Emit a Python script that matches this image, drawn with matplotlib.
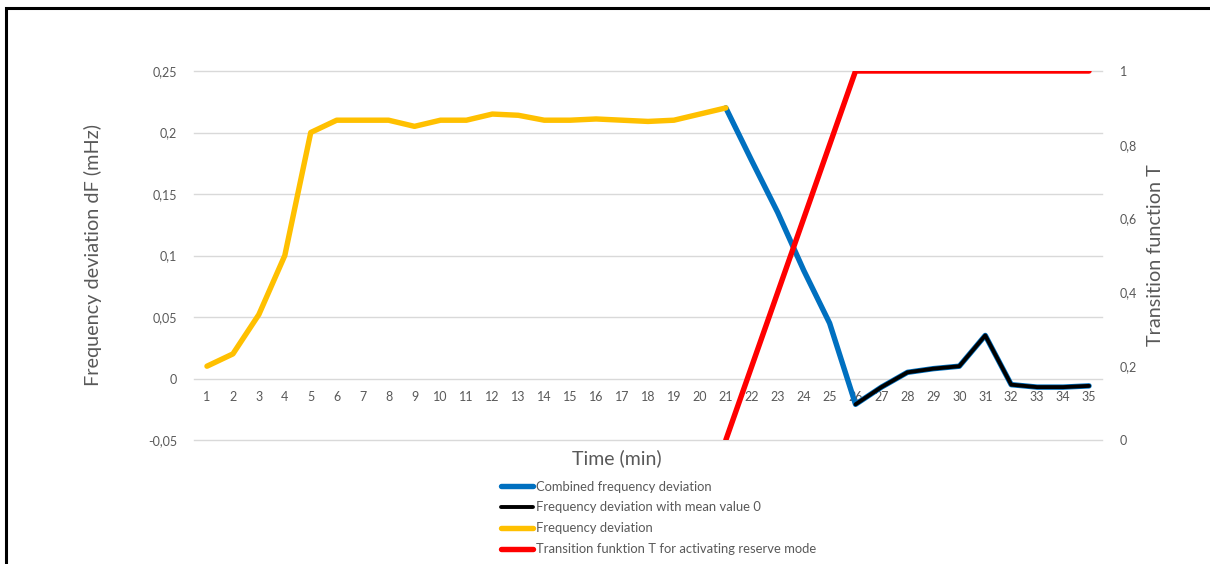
import matplotlib.pyplot as plt
from matplotlib.patches import Rectangle

plt.rcParams['font.family'] = ['Lato', 'DejaVu Sans']

minutes = list(range(1, 36))

# Frequency deviation (yellow), minutes 1-21
freq_x = list(range(1, 22))
freq_dev = [0.01, 0.02, 0.052, 0.1, 0.2, 0.21, 0.21, 0.21, 0.205, 0.21, 0.21,
            0.215, 0.214, 0.21, 0.21, 0.211, 0.21, 0.209, 0.21, 0.215, 0.22]

# Combined frequency deviation (blue), minutes 21-35
comb_x = list(range(21, 36))
comb_dev = [0.22, 0.177, 0.135, 0.088, 0.045, -0.021, -0.007, 0.005, 0.008,
            0.01, 0.035, -0.005, -0.007, -0.007, -0.006]

# Frequency deviation with mean value 0 (black), minutes 26-35
mean0_x = list(range(26, 36))
mean0_dev = [-0.021, -0.007, 0.005, 0.008, 0.01, 0.035, -0.005, -0.007, -0.007, -0.006]

# Transition function T (red), minutes 21-35
trans_x = list(range(21, 36))
trans_T = [0, 0.2, 0.4, 0.6, 0.8, 1, 1, 1, 1, 1, 1, 1, 1, 1, 1]

left_ticks = [-0.05, 0, 0.05, 0.1, 0.15, 0.2, 0.25]
left_labels = ["-0,05", "0", "0,05", "0,1", "0,15", "0,2", "0,25"]
right_ticks = [0, 0.2, 0.4, 0.6, 0.8, 1]
right_labels = ["0", "0,2", "0,4", "0,6", "0,8", "1"]

grey = "#595959"
W, H = 1210, 564
fig = plt.figure(figsize=(W / 100, H / 100), dpi=100)
ax = fig.add_axes([194 / W, (H - 440) / H, 908 / W, 369 / H])

kw = dict(solid_capstyle="round", solid_joinstyle="round")
l_blue, = ax.plot(comb_x, comb_dev, color="#0070c0", lw=3.9, label="Combined frequency deviation", **kw)
l_black, = ax.plot(mean0_x, mean0_dev, color="black", lw=2.8, label="Frequency deviation with mean value 0", **kw)
l_yellow, = ax.plot(freq_x, freq_dev, color="#ffc000", lw=3.9, label="Frequency deviation", **kw)

ax.set_xlim(0.5, 35.5)
ax.set_ylim(-0.05, 0.25)
ax.set_yticks(left_ticks)
ax.set_yticklabels(left_labels)
ax.set_xticks(minutes)
ax.set_xticklabels([str(m) for m in minutes])
ax.grid(axis="y", color="#d9d9d9", lw=1)
for g in ax.get_ygridlines():
    g.set_clip_on(False)
ax.set_axisbelow(True)
for s in ["top", "right", "left"]:
    ax.spines[s].set_visible(False)
ax.spines["bottom"].set_position(("data", 0))
ax.spines["bottom"].set_visible(False)
ax.tick_params(axis="x", length=0, pad=9, labelsize=9, labelcolor=grey)
ax.tick_params(axis="y", length=0, pad=12, labelsize=9, labelcolor=grey)
ax.set_ylabel("Frequency deviation dF (mHz)", fontsize=14.3, color=grey, labelpad=33)

ax2 = ax.twinx()
l_red, = ax2.plot(trans_x, trans_T, color="#ff0000", lw=3.9, label="Transition funktion T for activating reserve mode", **kw)
ax2.set_ylim(0, 1)
ax2.set_yticks(right_ticks)
ax2.set_yticklabels(right_labels)
for s in ax2.spines.values():
    s.set_visible(False)
ax2.tick_params(axis="y", length=0, pad=13, labelsize=9, labelcolor=grey)
ax2.set_ylabel("Transition function T", fontsize=14.3, color=grey, labelpad=7)

fig.text(617 / W, 1 - 458 / H, "Time (min)", fontsize=14, color=grey, ha="center", va="center")

leg = fig.legend(handles=[l_blue, l_black, l_yellow, l_red], loc="upper left",
                 bbox_to_anchor=(494 / W, 1 - 474 / H), frameon=False, fontsize=9.4,
                 handlelength=2.5, handletextpad=0.2, labelspacing=0.68, borderpad=0)
for t in leg.get_texts():
    t.set_color(grey)

fig.patches.append(Rectangle((5.5 / W, -0.1), 1.2, 1 - 8 / H + 0.1, transform=fig.transFigure,
                             fill=False, edgecolor="black", lw=2.2))

fig.savefig("out.png", dpi=100)
